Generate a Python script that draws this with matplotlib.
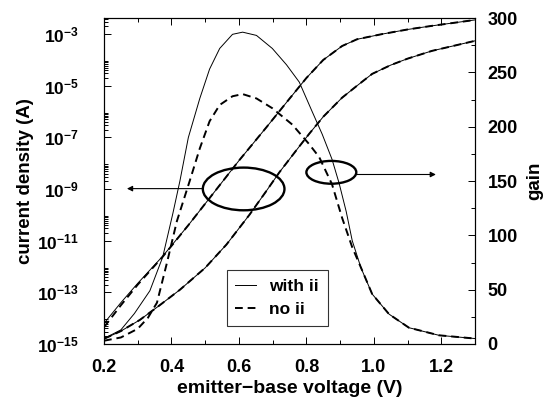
import matplotlib
matplotlib.use("Agg")
import matplotlib.pyplot as plt
import numpy as np
from matplotlib.patches import Ellipse
from matplotlib.ticker import FixedLocator, MultipleLocator, FuncFormatter

plt.rcParams["font.family"] = ["Liberation Sans", "DejaVu Sans"]
plt.rcParams["font.weight"] = "bold"
plt.rcParams["mathtext.fontset"] = "custom"
plt.rcParams["mathtext.rm"] = "Liberation Sans:bold"
plt.rcParams["mathtext.bf"] = "Liberation Sans:bold"

# ---------------------------------------------------------------------------
# Data (V in volts, currents as log10, gain linear)
# ---------------------------------------------------------------------------
v_upper = [0.2, 0.25, 0.3, 0.374, 0.45, 0.552, 0.6, 0.682, 0.75, 0.8, 0.85,
           0.906, 0.95, 1.024, 1.1, 1.172, 1.3]
log_upper_ii = [-14.2, -13.4, -12.65, -11.6, -10.4, -8.7, -7.9, -6.6, -5.5,
                -4.7, -4.0, -3.46, -3.2, -3.0, -2.82, -2.68, -2.45]
log_upper_no = [-14.35, -13.5, -12.7, -11.62, -10.4, -8.7, -7.9, -6.6, -5.5,
                -4.7, -4.0, -3.46, -3.2, -3.0, -2.82, -2.68, -2.45]

v_lower = [0.2, 0.25, 0.306, 0.36, 0.425, 0.5, 0.563, 0.631, 0.68, 0.72,
           0.779, 0.809, 0.85, 0.906, 0.95, 0.995, 1.05, 1.1, 1.172, 1.3]
log_lower = [-14.8, -14.5, -14.07, -13.55, -12.9, -12.05, -11.15, -10.0, -9.1,
             -8.35, -7.35, -6.85, -6.2, -5.46, -5.0, -4.54, -4.2, -3.95, -3.65,
             -3.26]

v_gain_ii = [0.2, 0.25, 0.29, 0.336, 0.374, 0.404, 0.425, 0.45, 0.484, 0.513,
             0.543, 0.581, 0.611, 0.652, 0.699, 0.741, 0.779, 0.817, 0.847,
             0.876, 0.897, 0.918, 0.936, 0.962, 0.995, 1.045, 1.104, 1.193, 1.3]
gain_ii = [5, 13, 28, 49, 80, 120, 150, 190, 226, 253, 272, 285, 287, 284,
           272, 257, 241, 214, 193, 170, 148, 122, 95, 70, 46, 27.5, 15, 8, 5]

v_gain_no = [0.2, 0.25, 0.3, 0.33, 0.357, 0.386, 0.416, 0.454, 0.484, 0.513,
             0.543, 0.581, 0.611, 0.652, 0.699, 0.758, 0.808, 0.838, 0.876,
             0.906, 0.936, 0.965, 0.995, 1.045, 1.104, 1.193, 1.3]
gain_no = [3, 6, 14, 24, 38, 74, 113, 150, 180, 205, 220, 228, 230, 226, 217,
           202, 184, 172, 147, 116, 89, 68, 46, 27.5, 15, 8, 5]

# ---------------------------------------------------------------------------
# Figure
# ---------------------------------------------------------------------------
fig = plt.figure(figsize=(5.46, 3.98), dpi=100)
ax = fig.add_axes([0.1905, 0.1357, 0.6795, 0.819])
ax2 = ax.twinx()

solid = dict(color="black", lw=0.7, ls="-")
dashed = dict(color="black", lw=1.4, ls=(0, (4, 2.5)))

ax.plot(v_upper, 10.0 ** np.array(log_upper_ii), **solid)
ax.plot(v_upper, 10.0 ** np.array(log_upper_no), **dashed)
ax.plot(v_lower, 10.0 ** np.array(log_lower), **solid)
ax.plot(v_lower, 10.0 ** np.array(log_lower), **dashed)

ax2.plot(v_gain_ii, gain_ii, label="with ii", **solid)
ax2.plot(v_gain_no, gain_no, label="no ii", **dashed)

# axes setup
ax.set_xlim(0.2, 1.3)
ax.set_yscale("log")
ax.set_ylim(1e-15, 4.2e-3)
ax2.set_ylim(0, 300)

ax.xaxis.set_major_locator(MultipleLocator(0.2))
ax.xaxis.set_minor_locator(MultipleLocator(0.1))
ax.xaxis.set_major_formatter(FuncFormatter(lambda v, p: f"{v:.1f}"))

major_y = [10.0 ** e for e in range(-15, -2, 2)]
minor_y = [m * 10.0 ** e for e in range(-15, -2, 2) for m in range(2, 10)]
ax.yaxis.set_major_locator(FixedLocator(major_y))
ax.yaxis.set_minor_locator(FixedLocator(minor_y))
ax.yaxis.set_major_formatter(
    FuncFormatter(lambda v, p: r"$\mathbf{10^{%d}}$" % round(np.log10(v))))

ax2.yaxis.set_major_locator(MultipleLocator(50))
ax2.yaxis.set_minor_locator(MultipleLocator(25))

for a in (ax, ax2):
    a.tick_params(which="both", direction="in", labelsize=13, width=0.7)
    a.tick_params(which="major", length=5)
    a.tick_params(which="minor", length=3)
    for s in a.spines.values():
        s.set_linewidth(0.8)
ax.tick_params(axis="x", which="both", top=True, pad=11)
ax.tick_params(axis="y", which="both", right=False, pad=18, labelsize=12.5)
ax2.tick_params(axis="y", which="both", pad=9)

ax.set_xlabel("emitter\u2212base voltage (V)", fontsize=14, fontweight="bold",
              labelpad=3)
ax.set_ylabel("current density (A)", fontsize=13.5, fontweight="bold")
ax.yaxis.set_label_coords(-0.19, 0.5)
ax2.set_ylabel("gain", fontsize=13.5, fontweight="bold", labelpad=6)

# annotations: ellipses with arrows
ax2.add_patch(Ellipse((0.614, 142.7), 0.242, 39.3, fill=False, lw=1.7,
                      color="black"))
ax2.add_patch(Ellipse((0.874, 158), 0.148, 21, fill=False, lw=1.7,
                      color="black"))
ax2.annotate("", xy=(0.268, 143), xytext=(0.493, 143),
             arrowprops=dict(arrowstyle="-|>", lw=0.8, color="black",
                             mutation_scale=8, shrinkA=0, shrinkB=0))
ax2.annotate("", xy=(1.184, 156), xytext=(0.948, 156),
             arrowprops=dict(arrowstyle="-|>", lw=0.8, color="black",
                             mutation_scale=8, shrinkA=0, shrinkB=0))

leg = ax2.legend(loc="lower left", bbox_to_anchor=(0.331, 0.056),
                 frameon=True, fancybox=False, edgecolor="black",
                 handlelength=1.2, handletextpad=0.75, borderpad=0.5,
                 labelspacing=0.45, borderaxespad=0,
                 prop=dict(size=12.5, weight="bold"))
leg.get_frame().set_linewidth(0.8)

fig.savefig("out.png", dpi=100)
